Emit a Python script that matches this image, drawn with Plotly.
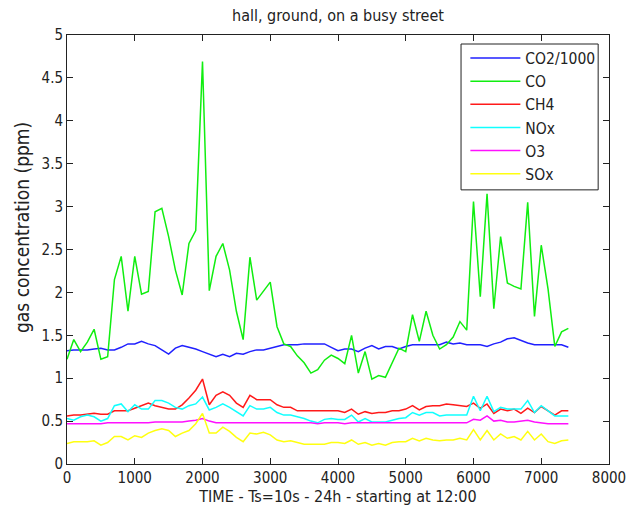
import plotly.graph_objects as go

time_s = list(range(0, 7500, 100))

co2_k = [1.32, 1.33, 1.33, 1.33, 1.34, 1.35, 1.33, 1.33, 1.36, 1.40,
         1.40, 1.43, 1.40, 1.38, 1.33, 1.28, 1.35, 1.38, 1.36, 1.34,
         1.31, 1.28, 1.25, 1.28, 1.25, 1.29, 1.28, 1.31, 1.33, 1.33,
         1.35, 1.37, 1.39, 1.39, 1.39, 1.40, 1.40, 1.40, 1.40, 1.36,
         1.32, 1.34, 1.34, 1.31, 1.35, 1.38, 1.34, 1.37, 1.37, 1.34,
         1.37, 1.39, 1.39, 1.39, 1.39, 1.39, 1.42, 1.40, 1.41, 1.39,
         1.39, 1.39, 1.37, 1.40, 1.42, 1.46, 1.47, 1.44, 1.41, 1.39,
         1.39, 1.39, 1.39, 1.39, 1.36]

co = [1.22, 1.45, 1.31, 1.42, 1.57, 1.22, 1.25, 2.15, 2.42, 1.78,
      2.42, 1.98, 2.01, 2.94, 2.98, 2.65, 2.26, 1.97, 2.57, 2.72,
      4.69, 2.02, 2.42, 2.57, 2.26, 1.78, 1.45, 2.41, 1.91, 2.01,
      2.12, 1.60, 1.40, 1.37, 1.26, 1.18, 1.06, 1.10, 1.21, 1.27,
      1.23, 1.17, 1.50, 1.06, 1.31, 0.99, 1.03, 1.01, 1.19, 1.35,
      1.31, 1.74, 1.43, 1.78, 1.50, 1.34, 1.39, 1.48, 1.66, 1.56,
      3.06, 1.95, 3.15, 1.81, 2.65, 2.11, 2.07, 2.04, 3.05, 1.72,
      2.55, 2.04, 1.37, 1.54, 1.58]

ch4 = [0.56, 0.57, 0.57, 0.58, 0.59, 0.58, 0.58, 0.62, 0.62, 0.62,
       0.65, 0.68, 0.71, 0.68, 0.66, 0.64, 0.64, 0.69, 0.77, 0.86,
       0.99, 0.69, 0.80, 0.84, 0.80, 0.71, 0.66, 0.80, 0.75, 0.75,
       0.75, 0.69, 0.66, 0.66, 0.62, 0.62, 0.62, 0.62, 0.62, 0.62,
       0.62, 0.60, 0.64, 0.58, 0.61, 0.59, 0.60, 0.60, 0.62, 0.62,
       0.64, 0.68, 0.63, 0.67, 0.68, 0.68, 0.70, 0.69, 0.68, 0.67,
       0.71, 0.65, 0.70, 0.59, 0.64, 0.62, 0.64, 0.59, 0.65, 0.60,
       0.67, 0.62, 0.57, 0.62, 0.62]

nox = [0.53, 0.51, 0.55, 0.57, 0.55, 0.50, 0.53, 0.68, 0.70, 0.61,
       0.69, 0.64, 0.64, 0.74, 0.74, 0.71, 0.66, 0.64, 0.68, 0.70,
       0.78, 0.63, 0.66, 0.70, 0.66, 0.61, 0.56, 0.68, 0.64, 0.64,
       0.66, 0.60, 0.57, 0.57, 0.55, 0.53, 0.50, 0.48, 0.52, 0.53,
       0.52, 0.52, 0.57, 0.49, 0.53, 0.49, 0.49, 0.49, 0.51, 0.53,
       0.54, 0.60, 0.57, 0.60, 0.60, 0.56, 0.57, 0.57, 0.57, 0.57,
       0.79, 0.62, 0.79, 0.61, 0.66, 0.64, 0.64, 0.64, 0.74, 0.60,
       0.68, 0.62, 0.56, 0.56, 0.56]

o3 = [0.47, 0.47, 0.47, 0.47, 0.47, 0.47, 0.48, 0.48, 0.48, 0.48,
      0.48, 0.48, 0.48, 0.49, 0.49, 0.49, 0.49, 0.49, 0.50, 0.51,
      0.53, 0.50, 0.48, 0.48, 0.48, 0.48, 0.48, 0.48, 0.48, 0.48,
      0.48, 0.48, 0.48, 0.48, 0.48, 0.48, 0.48, 0.47, 0.48, 0.48,
      0.48, 0.47, 0.48, 0.48, 0.48, 0.48, 0.48, 0.48, 0.48, 0.48,
      0.48, 0.48, 0.48, 0.48, 0.48, 0.48, 0.48, 0.48, 0.48, 0.48,
      0.52, 0.51, 0.56, 0.50, 0.51, 0.49, 0.49, 0.50, 0.51, 0.49,
      0.48, 0.47, 0.47, 0.47, 0.47]

sox = [0.24, 0.26, 0.26, 0.26, 0.27, 0.22, 0.25, 0.32, 0.32, 0.28,
       0.33, 0.31, 0.36, 0.39, 0.41, 0.39, 0.32, 0.36, 0.39, 0.47,
       0.59, 0.36, 0.36, 0.43, 0.38, 0.31, 0.26, 0.36, 0.35, 0.37,
       0.34, 0.28, 0.26, 0.27, 0.25, 0.23, 0.23, 0.23, 0.23, 0.25,
       0.25, 0.24, 0.28, 0.23, 0.25, 0.22, 0.24, 0.22, 0.25, 0.26,
       0.26, 0.30, 0.27, 0.30, 0.28, 0.27, 0.28, 0.28, 0.30, 0.28,
       0.40, 0.28, 0.39, 0.28, 0.35, 0.30, 0.32, 0.28, 0.38, 0.28,
       0.35, 0.26, 0.24, 0.27, 0.28]

series_names = ["CO2/1000", "CO", "CH4", "NOx", "O3", "SOx"]
series_values = [co2_k, co, ch4, nox, o3, sox]
series_colors = ["#2020ff", "#10ee10", "#ff1a1a", "#10ffff", "#ff10ff", "#ffff10"]

x_ticks = list(range(0, 9000, 1000))
y_ticks = [0, 0.5, 1, 1.5, 2, 2.5, 3, 3.5, 4, 4.5, 5]
y_tick_text = ["0", "0.5", "1", "1.5", "2", "2.5", "3", "3.5", "4", "4.5", "5"]

FONT = "DejaVu Sans Condensed, Liberation Sans, sans-serif"
INK = "#222"

fig = go.Figure()
for name, vals, col in zip(series_names, series_values, series_colors):
    fig.add_trace(go.Scatter(x=time_s, y=vals, mode="lines", name=name,
                             line=dict(color=col, width=1.5)))

axis_common = dict(showgrid=False, zeroline=False, showline=True, linecolor=INK,
                   linewidth=1, mirror="ticks", ticks="inside", ticklen=6,
                   tickcolor=INK, automargin=False,
                   tickfont=dict(family=FONT, size=15, color=INK))

# legend frame (white box with dark border)
fig.add_shape(type="rect", xref="paper", yref="paper",
              x0=0.727, x1=0.980, y0=0.639, y1=0.979,
              line=dict(color=INK, width=1), fillcolor="white", layer="above")

# y-axis title (placed like the original, slightly above the centre)
fig.add_annotation(text="gas concentration (ppm)", xref="paper", yref="paper",
                   x=-(67 - 22) / 542, y=(464 - 228) / 429, textangle=-90,
                   showarrow=False, xanchor="center", yanchor="middle",
                   font=dict(family=FONT, size=19, color=INK))

fig.update_layout(
    width=638, height=509,
    margin=dict(l=67, r=29, t=35, b=45),
    paper_bgcolor="white", plot_bgcolor="white",
    title=dict(text="hall, ground, on a busy street", x=338 / 638, xanchor="center",
               y=1 - 15 / 509, yref="container", yanchor="middle",
               font=dict(family=FONT, size=16, color=INK)),
    xaxis=dict(range=[0, 8000], tickvals=x_ticks, **axis_common,
               title=dict(text="TIME - Ts=10s - 24h - starting at 12:00", standoff=3,
                          font=dict(family=FONT, size=16, color=INK))),
    yaxis=dict(range=[0, 5], tickvals=y_ticks, ticktext=y_tick_text, **axis_common),
    legend=dict(x=0.735, y=0.985, xanchor="left", yanchor="top",
                bgcolor="rgba(0,0,0,0)", borderwidth=0,
                font=dict(family=FONT, size=15.5, color=INK),
                tracegroupgap=0, itemwidth=50),
    showlegend=True,
)

fig.write_html("out.html")
